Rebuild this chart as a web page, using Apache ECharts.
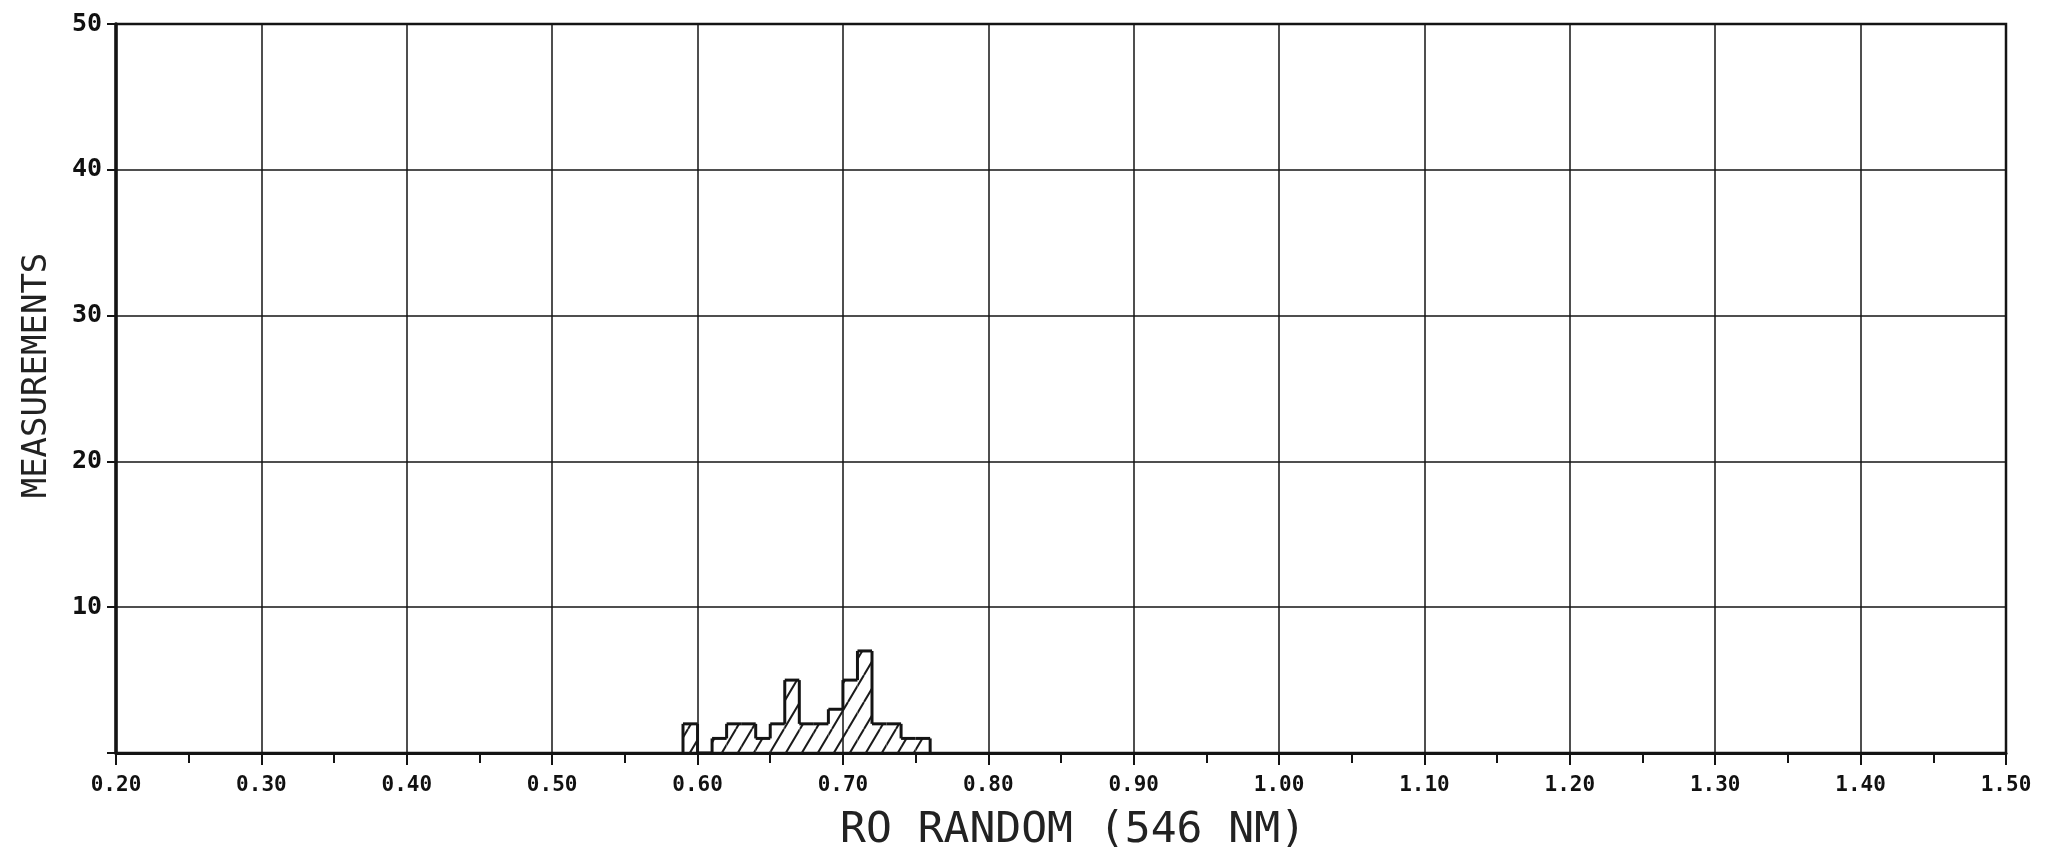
<!DOCTYPE html>
<html>
<head>
<meta charset="utf-8">
<script src="https://cdn.jsdelivr.net/npm/echarts@6/dist/echarts.min.js"></script>
<style>
html,body{margin:0;padding:0;background:#fff;}
#chart{width:2048px;height:857px;}
</style>
</head>
<body>
<div id="chart"></div>
<script>
// Histogram bins (left edges), bin width 0.01
const binStarts = [0.59, 0.60, 0.61, 0.62, 0.63, 0.64, 0.65, 0.66, 0.67, 0.68, 0.69, 0.70, 0.71, 0.72, 0.73, 0.74, 0.75];
const counts    = [2,    0,    1,    2,    2,    1,    2,    5,    2,    2,    3,    5,    7,    2,    2,    1,    1];
const binWidth = 0.01;
const xTickLabels = ['0.20','0.30','0.40','0.50','0.60','0.70','0.80','0.90','1.00','1.10','1.20','1.30','1.40','1.50'];
const yTickLabels = ['', '10', '20', '30', '40', '50'];

const ink = '#141414';

// hatch pattern
function makeHatch() {
  const w = 16, h = 27;
  const c = document.createElement('canvas');
  c.width = w; c.height = h;
  const g = c.getContext('2d');
  g.strokeStyle = '#1a1a1a';
  g.lineWidth = 2;
  for (let k = -1; k <= 1; k++) {
    g.beginPath();
    g.moveTo(k * w, h);
    g.lineTo(k * w + w, 0);
    g.stroke();
  }
  return c;
}
const hatch = makeHatch();

const histData = binStarts.map((b, i) => [b, +(b + binWidth).toFixed(2), counts[i]]);

const chart = echarts.init(document.getElementById('chart'), null, {renderer: 'canvas'});
const option = {
  backgroundColor: '#fff',
  animation: false,
  grid: {
    left: 116, right: 42, top: 24, bottom: 100,
    show: true, borderColor: ink, borderWidth: 2.5, backgroundColor: 'transparent'
  },
  xAxis: {
    type: 'value',
    min: 0.2, max: 1.5, interval: 0.1,
    name: 'RO RANDOM (546 NM)',
    nameLocation: 'middle',
    nameGap: 56,
    nameTextStyle: {fontFamily: 'DejaVu Sans Mono', fontSize: 43, color: '#222', padding: [0, 0, 0, 24]},
    axisLine: {show: true, onZero: false, lineStyle: {color: ink, width: 3}},
    axisTick: {show: true, length: 12, lineStyle: {color: ink, width: 2}},
    minorTick: {show: true, splitNumber: 2, length: 10, lineStyle: {color: ink, width: 2}},
    axisLabel: {
      margin: 22,
      fontFamily: 'DejaVu Sans Mono', fontSize: 21, fontWeight: 'bold', color: '#111',
      formatter: function (v) {
        const i = Math.round((v - 0.2) / 0.1);
        return xTickLabels[i] !== undefined ? xTickLabels[i] : '';
      }
    },
    splitLine: {show: true, lineStyle: {color: ink, width: 1.5}}
  },
  yAxis: {
    type: 'value',
    min: 0, max: 50, interval: 10,
    name: 'MEASUREMENTS',
    nameLocation: 'middle',
    nameGap: 62,
    nameRotate: 90,
    nameTextStyle: {fontFamily: 'DejaVu Sans Mono', fontSize: 34, color: '#222', padding: [0, 0, 0, 26]},
    axisLine: {show: true, lineStyle: {color: ink, width: 3.5}},
    axisTick: {show: true, length: 9, lineStyle: {color: ink, width: 2}},
    axisLabel: {
      margin: 14,
      fontFamily: 'DejaVu Sans Mono', fontSize: 25, fontWeight: 'bold', color: '#111',
      formatter: function (v) {
        const i = Math.round(v / 10);
        return yTickLabels[i] !== undefined ? yTickLabels[i] : '';
      }
    },
    splitLine: {show: true, lineStyle: {color: ink, width: 1.5}}
  },
  series: [{
    type: 'custom',
    data: histData,
    encode: {x: [0, 1], y: 2},
    clip: true,
    renderItem: function (params, api) {
      const i = params.dataIndex;
      const x0 = api.value(0), x1 = api.value(1), h = api.value(2);
      const prev = i > 0 ? counts[i - 1] : 0;
      const pBL = api.coord([x0, 0]);
      const pTR = api.coord([x1, h]);
      const pPrev = api.coord([x0, prev]);
      const lineStyle = {stroke: ink, lineWidth: 3, fill: null};
      const children = [];
      if (h > 0) {
        children.push({
          type: 'rect',
          shape: {x: pBL[0], y: pTR[1], width: pTR[0] - pBL[0], height: pBL[1] - pTR[1]},
          style: {fill: {image: hatch, repeat: 'repeat'}}
        });
      }
      children.push({type: 'line', shape: {x1: pBL[0], y1: pTR[1], x2: pTR[0], y2: pTR[1]}, style: lineStyle});
      if (prev !== h) {
        children.push({type: 'line', shape: {x1: pBL[0], y1: pPrev[1], x2: pBL[0], y2: pTR[1]}, style: lineStyle});
      }
      if (i === counts.length - 1) {
        children.push({type: 'line', shape: {x1: pTR[0], y1: pTR[1], x2: pTR[0], y2: pBL[1]}, style: lineStyle});
      }
      return {type: 'group', children: children};
    }
  }]
};
chart.setOption(option);
</script>
</body>
</html>
